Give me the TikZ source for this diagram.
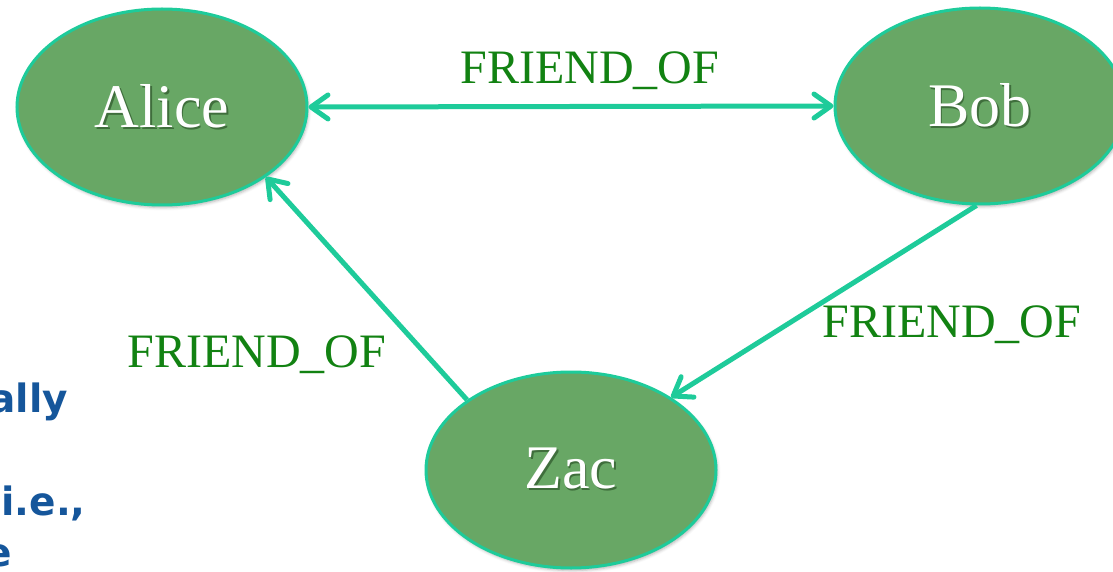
\documentclass[tikz,border=0pt]{standalone}
\usepackage{fontspec}
\setmainfont{Liberation Serif}
\newfontfamily\notefont{DejaVu Sans}
\usetikzlibrary{arrows.meta,shapes.geometric,shadows.blur}

\definecolor{nodefill}{HTML}{68A765}
\definecolor{edgeteal}{HTML}{1ECB9A}
\definecolor{labelgreen}{HTML}{128212}
\definecolor{noteblue}{HTML}{15569B}
\definecolor{textshade}{HTML}{3F6E3C}

% white caption with a soft dark copy behind it
\newcommand\embossed[1]{\makebox[0pt][l]{\hspace{1.5pt}\raisebox{-2pt}{\textcolor{textshade}{#1}}}#1}

\tikzset{
  barb/.tip={Straight Barb[length=17pt,width=24pt,round]},
}

\begin{document}
\begin{tikzpicture}[x=1pt,y=1pt,
  person/.style={ellipse, draw=edgeteal, line width=3pt, fill=nodefill,
    minimum width=290pt, minimum height=196pt, inner sep=0pt, text=white,
    font=\fontsize{62}{70}\selectfont,
    blur shadow={shadow xshift=1.5pt, shadow yshift=-2.5pt,
      shadow blur radius=3pt, shadow opacity=30}},
  rel/.style={draw=edgeteal, line width=5pt},
  rellabel/.style={text=labelgreen, font=\fontsize{48}{56}\selectfont,
    anchor=base, inner sep=0pt},
  note/.style={text=noteblue, font=\notefont\bfseries\fontsize{39}{50}\selectfont,
    anchor=base east, inner sep=0pt}]

\useasboundingbox (0,0) rectangle (1113,571);
\clip (0,0) rectangle (1113,571);

% people
\node[person] (Alice) at (162,464) {\embossed{Alice}};
\node[person] (Bob)   at (980,465) {\embossed{Bob}};
\node[person] (Zac)   at (571,101) {\embossed{Zac}};

% relationships
\draw[rel, barb-barb] (Alice.east) -- (Bob.west);
\draw[rel, -barb] (Zac.146.6) -- (Alice.-34.6);
\draw[rel, -barb] (Bob.-92) -- (Zac.36);

\node[rellabel] (ab) at (590,487) {FRIEND\_OF};
\node[rellabel] (bz) at (952,234) {FRIEND\_OF};
\node[rellabel] (za) at (257,204) {FRIEND\_OF};

% bullet text running in from the left
\node[note] (n1) at (68,159) {ally};
\node[note] (n2) at (86,56) {i.e.,};
\node[note] (n3) at (12,5) {e};
\end{tikzpicture}
\end{document}
